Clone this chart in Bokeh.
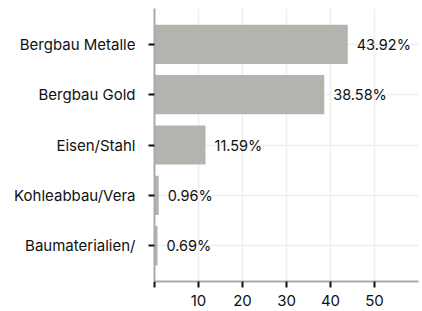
from bokeh.plotting import figure
from bokeh.models import ColumnDataSource, FactorRange, FixedTicker, Range1d
from bokeh.core.properties import value
from bokeh.embed import file_html
from bokeh.resources import INLINE

categories = ["Bergbau Metalle", "Bergbau Gold", "Eisen/Stahl", "Kohleabbau/Vera", "Baumaterialien/"]
shares = [43.92, 38.58, 11.59, 0.96, 0.69]
labels = ["43.92%", "38.58%", "11.59%", "0.96%", "0.69%"]
x_ticks = [0, 10, 20, 30, 40, 50]
grid_ticks = [10, 20, 30, 40, 50, 60]

FONT = "Inter"

src = ColumnDataSource(dict(cat=categories, val=shares, lab=labels))

p = figure(width=422, height=311, output_backend="svg", toolbar_location=None,
           y_range=FactorRange(factors=list(reversed(categories)), range_padding=0.086),
           x_range=Range1d(0, 60),
           min_border_left=154, min_border_right=4, min_border_top=8, min_border_bottom=30)
p.outline_line_color = None

p.hbar(y="cat", right="val", left=0, height=0.78, source=src,
       fill_color="#b4b3ae", line_color=None)
p.text(x="val", y="cat", text="lab", source=src, x_offset=9,
       text_align="left", text_baseline="middle",
       text_font=value(FONT), text_font_size="14.5px", text_color="#111111")

p.xaxis.ticker = FixedTicker(ticks=x_ticks)
p.xaxis.major_label_overrides = {0: ""}
p.xgrid.ticker = FixedTicker(ticks=grid_ticks)
for ax in (p.xaxis, p.yaxis):
    ax.axis_line_color = "#aaaaaa"
    ax.axis_line_width = 2
    ax.major_tick_line_color = "#111111"
    ax.major_tick_line_width = 2
    ax.major_tick_out = 6
    ax.major_tick_in = 0
    ax.minor_tick_line_color = None
    ax.major_label_text_font = FONT
    ax.major_label_text_font_size = "15px"
    ax.major_label_text_color = "#111111"
p.xaxis.major_label_standoff = 7
p.yaxis.major_label_standoff = 13
p.xgrid.grid_line_color = "#eeeeee"
p.xgrid.grid_line_width = 1.5
p.ygrid.grid_line_color = "#eeeeee"
p.ygrid.grid_line_width = 1.5

open("out.html", "w").write(file_html(p, INLINE))
